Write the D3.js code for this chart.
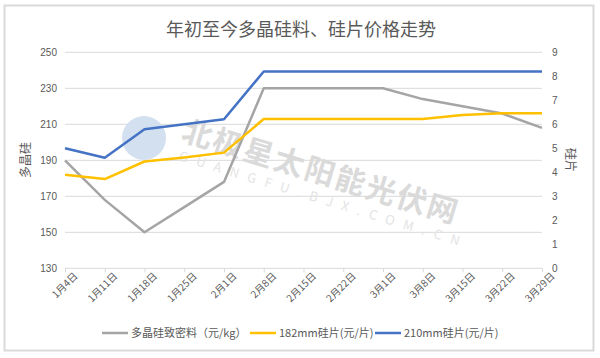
<!DOCTYPE html>
<html><head><meta charset="utf-8">
<script src="https://cdn.jsdelivr.net/npm/d3@7"></script>
<style>body{margin:0;background:#fff}svg{display:block}text{font-family:"Noto Sans CJK SC","Noto Sans",sans-serif}</style>
</head><body>
<svg id="c" width="600" height="358"></svg>
<script>
const categories = ["1月4日","1月11日","1月18日","1月25日","2月1日","2月8日","2月15日","2月22日","3月1日","3月8日","3月15日","3月22日","3月29日"];
const polysilicon = [190,168,150,164,178,230,230,230,230,224,220,216,208];
const wafer182 = [3.9,3.72,4.45,4.62,4.82,6.22,6.22,6.22,6.22,6.22,6.39,6.46,6.46];
const wafer210 = [5.0,4.61,5.79,6.0,6.21,8.2,8.2,8.2,8.2,8.2,8.2,8.2,8.2];
const leftTicks = [130,150,170,190,210,230,250];
const rightTicks = [0,1,2,3,4,5,6,7,8,9];
const seriesNames = ["多晶硅致密料（元/kg）","182mm硅片(元/片)","210mm硅片(元/片)"];
const colors = ["#a5a5a5","#ffc000","#4472c4"];

const svg = d3.select("#c");
svg.append("rect").attr("x",4.5).attr("y",5.5).attr("width",589).attr("height",345).attr("fill","#fff").attr("stroke","#d9d9d9").attr("stroke-width",2);

const L=65,R=542,T=52.3,B=268.3;
const x = d3.scalePoint().domain(categories).range([L,R]);
const yL = d3.scaleLinear().domain([130,250]).range([B,T]);
const yR = d3.scaleLinear().domain([0,9]).range([B,T]);

svg.append("text").attr("x",301).attr("y",36).attr("text-anchor","middle").attr("font-size",18).attr("fill","#595959").text("年初至今多晶硅料、硅片价格走势");

// gridlines
svg.append("g").selectAll("line").data(leftTicks.filter(d=>d!==130)).join("line")
  .attr("x1",L).attr("x2",R).attr("y1",d=>yL(d)).attr("y2",d=>yL(d)).attr("stroke","#d9d9d9").attr("stroke-width",1);

// watermark
const wm = svg.append("g");
wm.append("circle").attr("cx",144).attr("cy",138).attr("r",22).attr("fill","#d3e0ef");
wm.append("text").attr("transform","translate(180,140) rotate(17)").attr("font-size",30).attr("font-weight","bold").attr("fill","#dadada").attr("letter-spacing",2).text("北极星太阳能光伏网");
wm.append("text").attr("transform","translate(178,160) rotate(17)").attr("font-size",13).attr("fill","#e4e4e4").attr("letter-spacing",9).text("GUANGFU.BJX.COM.CN");

// left axis
const gl = svg.append("g").attr("transform",`translate(${L},0)`).call(d3.axisLeft(yL).tickValues(leftTicks).tickSize(0).tickPadding(8));
gl.select(".domain").remove();
gl.selectAll("text").attr("font-size",10).attr("fill","#595959").style("font-family","Liberation Sans, sans-serif");

// right axis
const gr = svg.append("g").attr("transform",`translate(${R},0)`).call(d3.axisRight(yR).tickValues(rightTicks).tickSize(0).tickPadding(10));
gr.select(".domain").remove();
gr.selectAll("text").attr("font-size",10).attr("fill","#595959").style("font-family","Liberation Sans, sans-serif");

// x axis
const gx = svg.append("g").attr("transform",`translate(0,${B})`).call(d3.axisBottom(x).tickSize(4).tickPadding(4));
gx.select(".domain").attr("stroke","#d9d9d9").attr("d",`M${L},0H${R}`);
gx.selectAll(".tick line").attr("stroke","#d9d9d9");
gx.selectAll("text").attr("font-size",10).attr("fill","#595959").attr("text-anchor","end")
  .attr("dx","0.3em").attr("dy","0.7em").attr("transform","rotate(-45)");

// axis titles
svg.append("text").attr("transform","translate(30,160) rotate(-90)").attr("text-anchor","middle").attr("font-size",12).attr("fill","#595959").text("多晶硅");
svg.append("text").attr("transform","translate(566,160) rotate(90)").attr("text-anchor","middle").attr("font-size",12).attr("fill","#595959").text("硅片");

// lines
const mk = (scale)=>d3.line().x((d,i)=>x(categories[i])).y(d=>scale(d));
svg.append("path").datum(polysilicon).attr("d",mk(yL)).attr("fill","none").attr("stroke",colors[0]).attr("stroke-width",2.5).attr("stroke-linejoin","round");
svg.append("path").datum(wafer182).attr("d",mk(yR)).attr("fill","none").attr("stroke",colors[1]).attr("stroke-width",2.5).attr("stroke-linejoin","round");
svg.append("path").datum(wafer210).attr("d",mk(yR)).attr("fill","none").attr("stroke",colors[2]).attr("stroke-width",2.5).attr("stroke-linejoin","round");

// legend
const legX = [102,250,375];
const lg = svg.append("g");
seriesNames.forEach((n,i)=>{
  lg.append("line").attr("x1",legX[i]).attr("x2",legX[i]+26).attr("y1",333).attr("y2",333).attr("stroke",colors[i]).attr("stroke-width",2.5);
  lg.append("text").attr("x",legX[i]+29).attr("y",337).attr("font-size",11).attr("fill","#595959").text(n);
});
</script>
</body></html>
